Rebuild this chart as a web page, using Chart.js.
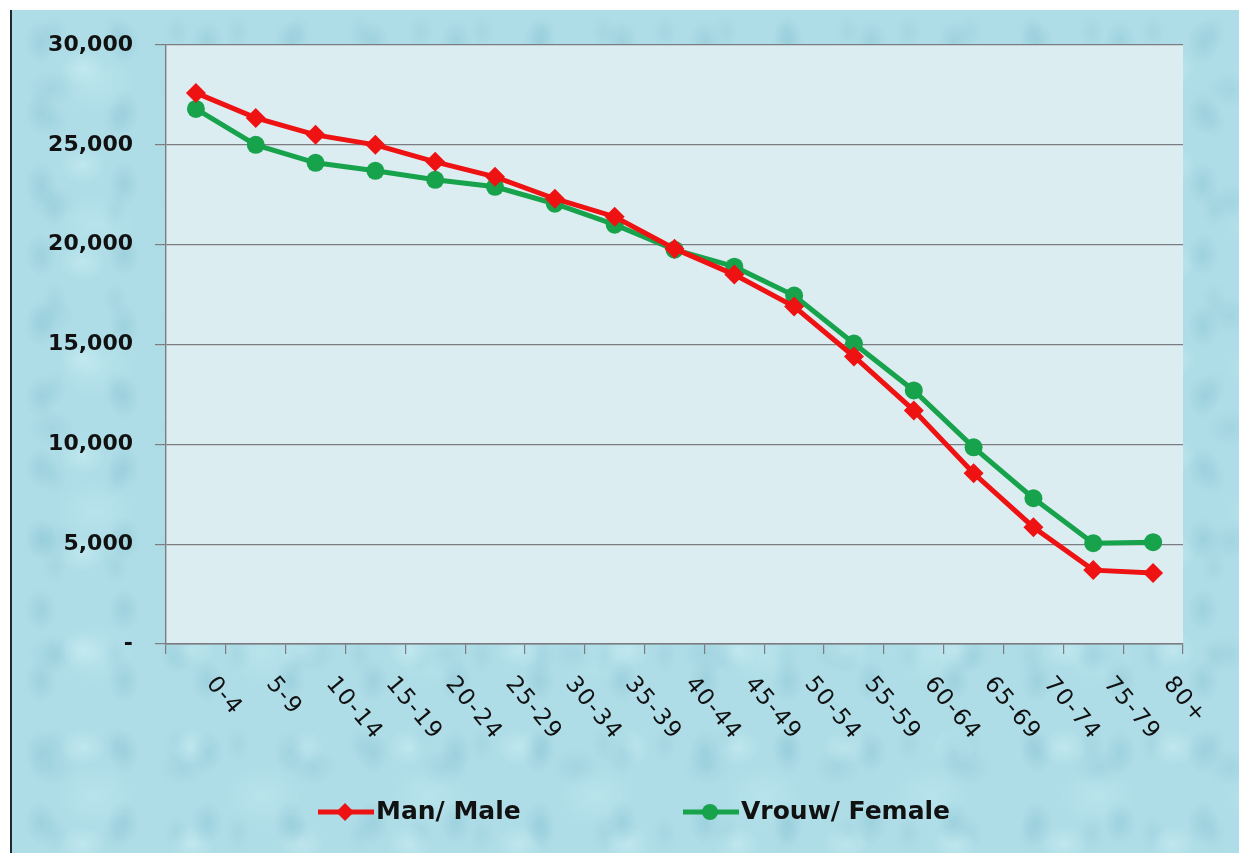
<!DOCTYPE html>
<html>
<head>
<meta charset="utf-8">
<script src="https://cdn.jsdelivr.net/npm/chart.js@4.4.0/dist/chart.umd.min.js"></script>
<style>
    html, body { margin: 0; padding: 0; background: #fff; }
    #frame {
        position: absolute; left: 10px; top: 10px; width: 1229px; height: 843px;
        border-left: 2px solid #1e2a2e;
        background-color: #afdde7;
        background-image:
            radial-gradient(ellipse 22px 30px at 35% 45%, rgba(120,185,203,.32), rgba(120,185,203,0) 75%),
            radial-gradient(ellipse 30px 24px at 65% 60%, rgba(210,242,247,.45), rgba(210,242,247,0) 75%),
            radial-gradient(ellipse 18px 26px at 70% 25%, rgba(135,195,210,.25), rgba(135,195,210,0) 75%),
            radial-gradient(ellipse 34px 26px at 30% 70%, rgba(130,192,208,.28), rgba(130,192,208,0) 75%),
            radial-gradient(ellipse 50px 40px at 50% 50%, rgba(200,238,244,.35), rgba(200,238,244,0) 75%);
        background-size: 83px 71px, 109px 97px, 61px 89px, 131px 113px, 167px 143px;
    }
    #chart { position: absolute; left: 0; top: 0; }
</style>
</head>
<body>
<div id="frame"></div>
<canvas id="chart" width="1239" height="853"></canvas>
<script>
// Age groups and population counts
const ageGroups = ['0-4', '5-9', '10-14', '15-19', '20-24', '25-29', '30-34', '35-39', '40-44',
    '45-49', '50-54', '55-59', '60-64', '65-69', '70-74', '75-79', '80+'];
const maleValues = [27600, 26350, 25500, 25000, 24150, 23400, 22300, 21400, 19800,
    18500, 16900, 14400, 11700, 8550, 5850, 3700, 3550];
const femaleValues = [26800, 25000, 24100, 23700, 23250, 22900, 22050, 21000, 19750,
    18900, 17450, 15050, 12700, 9850, 7300, 5050, 5100];
const seriesNames = ['Man/ Male', 'Vrouw/ Female'];
const yTicks = [0, 5000, 10000, 15000, 20000, 25000, 30000];

const RED = '#ee1212';
const GREEN = '#17a24c';
const AXIS_GREY = '#7b7d80';

// plot area fill
const plotBg = {
    id: 'plotBg',
    beforeDraw(chart) {
        const { ctx, chartArea: a } = chart;
        ctx.save();
        ctx.fillStyle = '#dcedf2';
        ctx.fillRect(a.left, a.top, a.right - a.left, a.bottom - a.top);
        ctx.restore();
    }
};

// rotated category labels (reading down to the right)
const slantLabels = {
    id: 'slantLabels',
    afterDraw(chart) {
        const { ctx } = chart;
        const x = chart.scales.x;
        const half = (x.getPixelForValue(1) - x.getPixelForValue(0)) / 2;
        ctx.save();
        ctx.fillStyle = '#111';
        ctx.font = '23px "DejaVu Sans"';
        ctx.letterSpacing = '1.5px';
        ctx.textAlign = 'left';
        ctx.textBaseline = 'alphabetic';
        ageGroups.forEach((lbl, i) => {
            const px = x.getPixelForValue(i) + half - 20;
            ctx.save();
            ctx.translate(px, 684);
            ctx.rotate(50 * Math.PI / 180);
            ctx.fillText(lbl, 0, 0);
            ctx.restore();
        });
        ctx.restore();
    }
};

// legend: line + marker + bold text
const lineLegend = {
    id: 'lineLegend',
    afterDraw(chart) {
        const { ctx } = chart;
        const items = [
            { x: 318, ds: chart.data.datasets[0] },
            { x: 683, ds: chart.data.datasets[1] }
        ];
        const y = 812;
        ctx.save();
        items.forEach(it => {
            ctx.strokeStyle = it.ds.borderColor;
            ctx.fillStyle = it.ds.borderColor;
            ctx.lineWidth = 5;
            ctx.beginPath();
            ctx.moveTo(it.x, y);
            ctx.lineTo(it.x + 56, y);
            ctx.stroke();
            const cx = it.x + 27;
            ctx.beginPath();
            if (it.ds.pointStyle === 'rectRot') {
                ctx.moveTo(cx, y - 9); ctx.lineTo(cx + 9, y); ctx.lineTo(cx, y + 9); ctx.lineTo(cx - 9, y);
                ctx.closePath();
            } else {
                ctx.arc(cx, y, 8, 0, Math.PI * 2);
            }
            ctx.fill();
            ctx.fillStyle = '#111';
            ctx.font = 'bold 25px "DejaVu Sans"';
            ctx.textBaseline = 'middle';
            ctx.fillText(it.ds.label, it.x + 58, y);
        });
        ctx.restore();
    }
};

new Chart(document.getElementById('chart').getContext('2d'), {
    type: 'line',
    data: {
        labels: ageGroups,
        datasets: [
            {
                label: seriesNames[0],
                data: maleValues,
                borderColor: RED,
                backgroundColor: RED,
                borderWidth: 5,
                pointStyle: 'rectRot',
                pointRadius: 10,
                pointBorderWidth: 0,
                tension: 0
            },
            {
                label: seriesNames[1],
                data: femaleValues,
                borderColor: GREEN,
                backgroundColor: GREEN,
                borderWidth: 5,
                pointStyle: 'circle',
                pointRadius: 9,
                pointBorderWidth: 0,
                tension: 0
            }
        ]
    },
    options: {
        responsive: false,
        animation: false,
        layout: { padding: { left: 0, top: 45, right: 56, bottom: 199 } },
        plugins: {
            legend: { display: false },
            tooltip: { enabled: false }
        },
        scales: {
            x: {
                type: 'category',
                offset: true,
                afterFit: s => { s.height = 10; },
                grid: {
                    offset: true,
                    drawOnChartArea: false,
                    drawTicks: true,
                    tickLength: 10,
                    color: AXIS_GREY,
                    lineWidth: 1.2
                },
                border: { display: true, color: AXIS_GREY, width: 1.4 },
                ticks: { display: false }
            },
            y: {
                min: 0,
                max: 30000,
                afterFit: s => { s.width = 166; },
                afterBuildTicks: s => { s.ticks = yTicks.map(v => ({ value: v })); },
                grid: { color: AXIS_GREY, lineWidth: 1.2, tickLength: 11 },
                border: { display: true, color: AXIS_GREY, width: 1.4 },
                ticks: {
                    padding: 22,
                    color: '#111',
                    font: { family: 'DejaVu Sans', size: 22, weight: 'bold' },
                    callback: v => v === 0 ? '-' : v.toLocaleString('en-US')
                }
            }
        }
    },
    plugins: [plotBg, slantLabels, lineLegend]
});
</script>
</body>
</html>
